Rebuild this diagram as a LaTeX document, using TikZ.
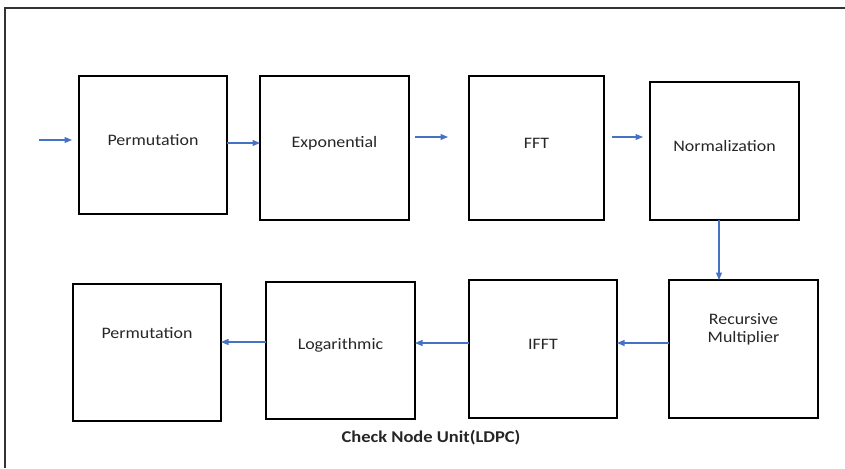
\documentclass[tikz,border=0pt]{standalone}
\usepackage{fontspec}
\setmainfont{Carlito}[FakeStretch=1.12]
\usetikzlibrary{positioning,
    arrows.meta,
    calc}

\definecolor{flowblue}{RGB}{68,114,196}

\begin{document}
\begin{tikzpicture} [x = 1pt, y = -1pt,
    > = {Triangle[length=7.5pt, width=6pt]},
    blk/.style = {draw, line width = 1.5pt, outer sep = 0pt,
                  minimum width = 148pt, minimum height = 138pt},
    txt/.style = {font = \fontsize{16}{18}\selectfont, align = center,
                  text = black!85},
    flow/.style = {->, flowblue, line width = 1.1pt},
    frame/.style = {line width = 1.4pt, black!80}]
\useasboundingbox (0,0) rectangle (845,468);
\draw[frame] (845,8) -- (5,8) -- (5,468);

% top row, left to right
\node[blk, anchor=north west, label={[txt, yshift=5pt]center:Permutation}] (perm1) at (79,76) {};
\node[blk, right=33pt of perm1.north east, anchor=north west, minimum width=149pt, minimum height=144pt,
      label={[txt, yshift=5pt]center:Exponential}] (exp) {};
\node[blk, right=60pt of exp.north east, anchor=north west, minimum width=135pt, minimum height=144pt,
      label={[txt, yshift=5pt]center:FFT}] (fft) {};
\node[blk, right=46pt of fft.south east, anchor=south west, minimum width=149pt,
      label={[txt, yshift=5pt]center:Normalization}] (norm) {};

% bottom row, right to left
\node[blk, below=60pt of norm.south west, anchor=north west, xshift=19pt, minimum width=149pt,
      label={[txt, yshift=20pt]center:Recursive\\Multiplier}] (rec) {};
\node[blk, left=52pt of rec.north west, anchor=north east,
      label={[txt, yshift=5pt]center:IFFT}] (ifft) {};
\node[blk, left=54pt of ifft.north west, anchor=north east, yshift=-2pt, minimum width=149pt, minimum height=137pt,
      label={[txt, yshift=5.5pt]center:Logarithmic}] (log) {};
\node[blk, left=45pt of log.north west, anchor=north east, yshift=-2pt, minimum height=137pt,
      label={[txt, yshift=19.5pt]center:Permutation}] (perm2) {};

\node[txt, font=\fontsize{16.5}{19}\selectfont\bfseries] (title) at (431,438) {Check Node Unit(LDPC)};

\coordinate (src) at (39,140);

\draw[flow, shorten >=7pt] (src) -- (src -| perm1.west);
\draw[flow] ([yshift=2pt]perm1.east) -- ([yshift=2pt]perm1.east -| exp.west);
\draw[flow, shorten <=6pt, shorten >=21pt] ([yshift=11pt]exp.east) -- ([yshift=11pt]exp.east -| fft.west);
\draw[flow, shorten <=8pt, shorten >=7pt] ([yshift=11pt]fft.east) -- ([yshift=11pt]fft.east -| norm.west);
\draw[flow] ([xshift=-5.5pt]norm.south) -- ([xshift=-5.5pt]norm.south |- rec.north);
\draw[flow] ([yshift=6pt]rec.west) -- ([yshift=6pt]rec.west -| ifft.east);
\draw[flow] ([yshift=6pt]ifft.west) -- ([yshift=6pt]ifft.west -| log.east);
\draw[flow] ([yshift=8.5pt]log.west) -- ([yshift=8.5pt]log.west -| perm2.east);
\end{tikzpicture}
\end{document}
